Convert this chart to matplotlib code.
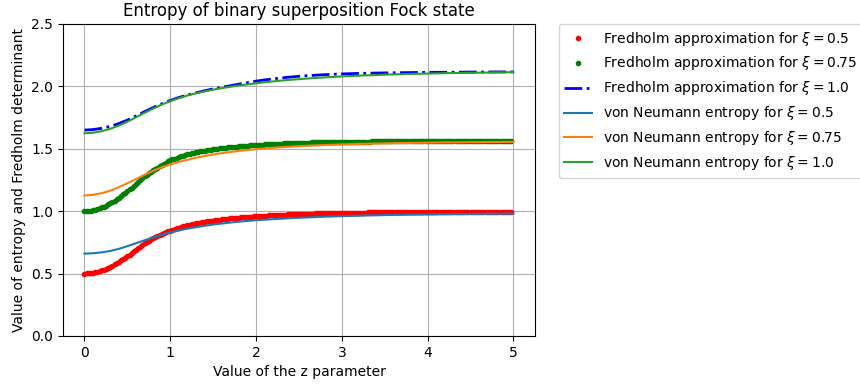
import numpy as np
import matplotlib
matplotlib.use("Agg")
import matplotlib.pyplot as plt

# z grid for the Fredholm points (step 0.025) and the curves (step 0.1)
z_dots = np.arange(200) * 0.025
z_line = np.arange(51) * 0.1

fred_05 = [0.500, 0.501, 0.502, 0.504, 0.507, 0.511, 0.515, 0.520, 0.526, 0.532,
           0.539, 0.547, 0.555, 0.564, 0.574, 0.584, 0.595, 0.606, 0.617, 0.628,
           0.640, 0.652, 0.665, 0.678, 0.691, 0.704, 0.717, 0.730, 0.742, 0.753,
           0.764, 0.774, 0.784, 0.793, 0.802, 0.810, 0.818, 0.825, 0.832, 0.839,
           0.845, 0.851, 0.857, 0.863, 0.868, 0.873, 0.878, 0.883, 0.887, 0.891,
           0.895, 0.899, 0.902, 0.906, 0.909, 0.912, 0.915, 0.918, 0.920, 0.923,
           0.925, 0.928, 0.930, 0.932, 0.934, 0.936, 0.938, 0.940, 0.942, 0.944,
           0.945, 0.947, 0.948, 0.950, 0.951, 0.953, 0.954, 0.956, 0.957, 0.959,
           0.960, 0.961, 0.962, 0.963, 0.964, 0.965, 0.966, 0.967, 0.968, 0.969,
           0.970, 0.971, 0.972, 0.973, 0.973, 0.974, 0.975, 0.976, 0.976, 0.977,
           0.978, 0.978, 0.979, 0.979, 0.980, 0.980, 0.981, 0.981, 0.982, 0.982,
           0.983, 0.983, 0.984, 0.984, 0.985, 0.985, 0.986, 0.986, 0.986, 0.986,
           0.987, 0.987, 0.987, 0.987, 0.988, 0.988, 0.988, 0.988, 0.989, 0.989,
           0.989, 0.989, 0.990, 0.990, 0.990, 0.990, 0.990, 0.990, 0.991, 0.991,
           0.991, 0.991, 0.991, 0.991, 0.992, 0.992, 0.992, 0.992, 0.992, 0.992,
           0.993, 0.993, 0.993, 0.993, 0.993, 0.993, 0.993, 0.993, 0.994, 0.994,
           0.994, 0.994, 0.994, 0.994, 0.994, 0.994, 0.994, 0.994, 0.995, 0.995,
           0.995, 0.995, 0.995, 0.995, 0.995, 0.995, 0.995, 0.995, 0.995, 0.995,
           0.996, 0.996, 0.996, 0.996, 0.996, 0.996, 0.996, 0.996, 0.996, 0.996,
           0.996, 0.996, 0.997, 0.997, 0.997, 0.997, 0.997, 0.997, 0.997, 0.997]

fred_075 = [1.000, 1.001, 1.002, 1.005, 1.008, 1.012, 1.017, 1.023, 1.030, 1.037,
            1.045, 1.054, 1.063, 1.074, 1.085, 1.097, 1.109, 1.121, 1.134, 1.147,
            1.160, 1.174, 1.189, 1.203, 1.218, 1.233, 1.248, 1.264, 1.280, 1.293,
            1.306, 1.318, 1.329, 1.340, 1.350, 1.360, 1.370, 1.380, 1.390, 1.399,
            1.407, 1.415, 1.422, 1.429, 1.435, 1.441, 1.446, 1.451, 1.456, 1.461,
            1.465, 1.469, 1.472, 1.476, 1.479, 1.482, 1.485, 1.488, 1.491, 1.494,
            1.496, 1.499, 1.501, 1.503, 1.505, 1.507, 1.509, 1.511, 1.513, 1.515,
            1.516, 1.518, 1.520, 1.522, 1.523, 1.525, 1.526, 1.527, 1.528, 1.530,
            1.531, 1.532, 1.533, 1.534, 1.535, 1.536, 1.537, 1.538, 1.539, 1.540,
            1.541, 1.542, 1.542, 1.543, 1.544, 1.545, 1.545, 1.546, 1.546, 1.547,
            1.548, 1.548, 1.549, 1.549, 1.550, 1.550, 1.551, 1.551, 1.552, 1.552,
            1.553, 1.553, 1.553, 1.553, 1.554, 1.554, 1.555, 1.555, 1.555, 1.555,
            1.556, 1.556, 1.556, 1.556, 1.557, 1.557, 1.557, 1.557, 1.558, 1.558,
            1.558, 1.558, 1.558, 1.558, 1.559, 1.559, 1.559, 1.559, 1.559, 1.559,
            1.560, 1.560, 1.560, 1.560, 1.560, 1.560, 1.560, 1.560, 1.561, 1.561,
            1.561, 1.561, 1.561, 1.561, 1.561, 1.561, 1.561, 1.561, 1.562, 1.562,
            1.562, 1.562, 1.562, 1.562, 1.562, 1.562, 1.562, 1.562, 1.562, 1.562,
            1.563, 1.563, 1.563, 1.563, 1.563, 1.563, 1.563, 1.563, 1.563, 1.563,
            1.563, 1.563, 1.563, 1.563, 1.563, 1.563, 1.563, 1.563, 1.564, 1.564,
            1.564, 1.564, 1.564, 1.564, 1.564, 1.564, 1.564, 1.564, 1.564, 1.564]

fred_10 = [1.650, 1.654, 1.664, 1.680, 1.702, 1.730, 1.763, 1.797, 1.830, 1.860,
           1.887, 1.911, 1.931, 1.948, 1.965, 1.980, 1.993, 2.005, 2.018, 2.030,
           2.042, 2.052, 2.060, 2.068, 2.075, 2.081, 2.086, 2.090, 2.094, 2.097,
           2.100, 2.102, 2.104, 2.105, 2.107, 2.108, 2.109, 2.110, 2.111, 2.112,
           2.112, 2.113, 2.113, 2.114, 2.114, 2.115, 2.115, 2.115, 2.116, 2.116,
           2.116]

vn_05 = [0.660, 0.663, 0.670, 0.681, 0.698, 0.720, 0.743, 0.767, 0.790, 0.811,
         0.830, 0.846, 0.860, 0.872, 0.883, 0.893, 0.901, 0.909, 0.916, 0.922,
         0.928, 0.932, 0.936, 0.940, 0.944, 0.947, 0.950, 0.953, 0.956, 0.958,
         0.960, 0.962, 0.964, 0.966, 0.967, 0.969, 0.970, 0.971, 0.972, 0.973,
         0.974, 0.975, 0.976, 0.977, 0.977, 0.978, 0.979, 0.979, 0.980, 0.980,
         0.981]

vn_075 = [1.126, 1.131, 1.144, 1.164, 1.192, 1.224, 1.257, 1.292, 1.324, 1.352,
          1.375, 1.395, 1.412, 1.428, 1.442, 1.454, 1.465, 1.474, 1.483, 1.490,
          1.497, 1.503, 1.508, 1.513, 1.517, 1.521, 1.524, 1.527, 1.530, 1.532,
          1.535, 1.537, 1.539, 1.540, 1.542, 1.543, 1.545, 1.546, 1.547, 1.548,
          1.549, 1.550, 1.551, 1.551, 1.552, 1.553, 1.553, 1.554, 1.554, 1.555,
          1.555]

vn_10 = [1.624, 1.629, 1.641, 1.660, 1.686, 1.717, 1.752, 1.788, 1.822, 1.854,
         1.882, 1.906, 1.927, 1.945, 1.960, 1.974, 1.986, 1.997, 2.007, 2.016,
         2.025, 2.033, 2.040, 2.047, 2.053, 2.058, 2.063, 2.068, 2.072, 2.076,
         2.080, 2.083, 2.086, 2.089, 2.091, 2.094, 2.096, 2.098, 2.100, 2.101,
         2.103, 2.104, 2.106, 2.107, 2.108, 2.109, 2.110, 2.111, 2.112, 2.113,
         2.114]

fig = plt.figure(figsize=(8.6, 3.85), dpi=100)
ax = fig.add_axes([0.0733, 0.1273, 0.5487, 0.8104])

ax.plot(z_dots, fred_05, 'r.', label=r'Fredholm approximation for $\xi = 0.5$')
ax.plot(z_dots, fred_075, 'g.', label=r'Fredholm approximation for $\xi = 0.75$')
ax.plot(z_line, fred_10, 'b-.', linewidth=2, label=r'Fredholm approximation for $\xi = 1.0$')
ax.plot(z_line, vn_05, label=r'von Neumann entropy for $\xi = 0.5$')
ax.plot(z_line, vn_075, label=r'von Neumann entropy for $\xi = 0.75$')
ax.plot(z_line, vn_10, label=r'von Neumann entropy for $\xi = 1.0$')

ax.set_ylim(0, 2.5)
ax.grid(True)
ax.set_title('Entropy of binary superposition Fock state')
ax.set_xlabel('Value of the z parameter')
ax.set_ylabel('Value of entropy and Fredholm determinant')
ax.legend(bbox_to_anchor=(1.05, 1), loc='upper left', borderaxespad=0.)

fig.savefig('out.png', dpi=100)
